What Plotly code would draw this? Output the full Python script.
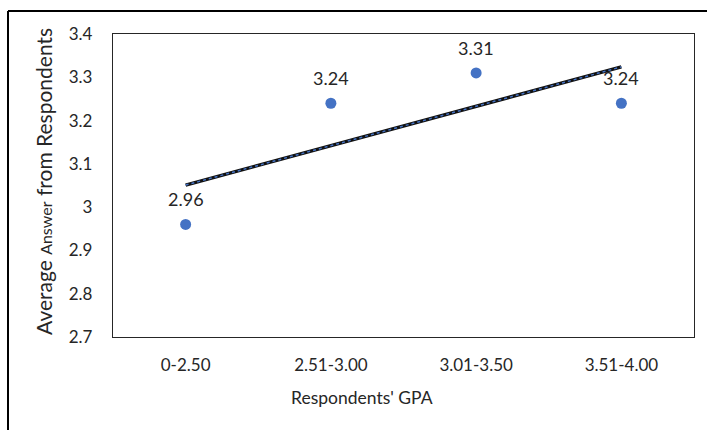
import numpy as np
import plotly.graph_objects as go

categories = ["0-2.50", "2.51-3.00", "3.01-3.50", "3.51-4.00"]
values = [2.96, 3.24, 3.31, 3.24]
y_ticks = [2.7, 2.8, 2.9, 3.0, 3.1, 3.2, 3.3, 3.4]
y_tick_labels = ["2.7", "2.8", "2.9", "3", "3.1", "3.2", "3.3", "3.4"]

xpos = np.arange(1, len(categories) + 1)
slope, intercept = np.polyfit(xpos, values, 1)
trend_x = [xpos[0], xpos[-1]]
trend_y = [slope * x + intercept for x in trend_x]

FONT = "Lato"
TXT = "#262626"
L, R, T, B = 113, 694, 34, 337
PW, PH = R - L, B - T


def px(xp):
    return (xp - L) / PW


def py(yp):
    return (B - yp) / PH


fig = go.Figure()
fig.add_trace(go.Scatter(x=trend_x, y=trend_y, mode="lines",
                         line=dict(color="#111111", width=3.5), hoverinfo="skip"))
fig.add_trace(go.Scatter(x=trend_x, y=trend_y, mode="lines",
                         line=dict(color="#4472C4", width=1.5, dash="dot"), hoverinfo="skip"))
fig.add_trace(go.Scatter(x=xpos, y=values, mode="markers",
                         marker=dict(color="#4472C4", size=11)))

for x, v in zip(xpos, values):
    fig.add_annotation(x=x, y=v, text=f"{v:.2f}", showarrow=False, yshift=25,
                       font=dict(family=FONT, size=18, color=TXT))

fig.add_annotation(xref="paper", yref="paper", x=px(362), y=py(398),
                   xanchor="center", yanchor="middle",
                   text="Respondents' GPA", showarrow=False,
                   font=dict(family=FONT, size=17.5, color=TXT))

fig.add_annotation(xref="paper", yref="paper", x=px(43), y=py(182), textangle=-90,
                   xanchor="center", yanchor="middle",
                   text="Average <span style='font-size:16px'>Answer</span> from Respondents",
                   showarrow=False, font=dict(family=FONT, size=21, color=TXT))

# outer chart border (left and top)
fig.add_shape(type="line", xref="paper", yref="paper",
              x0=px(8), x1=px(8), y0=py(11), y1=py(432),
              line=dict(color="black", width=2))
fig.add_shape(type="line", xref="paper", yref="paper",
              x0=px(8), x1=px(709), y0=py(11), y1=py(11),
              line=dict(color="black", width=2))

fig.update_layout(
    width=707, height=430,
    margin=dict(l=L, r=707 - R, t=T, b=430 - B),
    plot_bgcolor="white", paper_bgcolor="white",
    showlegend=False,
    font=dict(family=FONT, size=17, color=TXT),
    xaxis=dict(range=[0.5, 4.5], tickvals=list(xpos), ticktext=categories,
               showgrid=False, zeroline=False, showline=True, mirror=True,
               linecolor=TXT, linewidth=1.3, ticks="", ticklabelstandoff=12,
               automargin=False,
               tickfont=dict(family=FONT, size=17, color=TXT)),
    yaxis=dict(range=[2.7, 3.4], tickvals=y_ticks, ticktext=y_tick_labels,
               showgrid=False, zeroline=False, showline=True, mirror=True,
               linecolor=TXT, linewidth=1.3, ticks="", ticklabelstandoff=16,
               automargin=False,
               tickfont=dict(family=FONT, size=17, color=TXT)),
)

fig.write_html("out.html", config={"displayModeBar": False},
               post_script="document.body.style.margin='0';document.body.style.overflow='hidden';")
